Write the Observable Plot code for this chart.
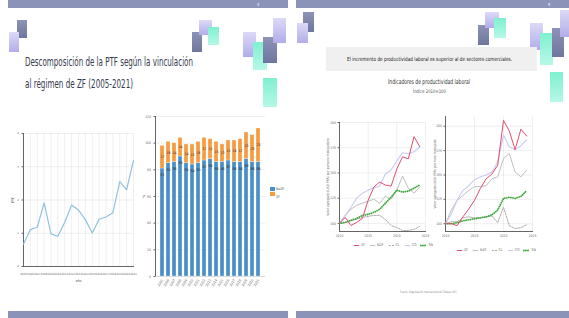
<!DOCTYPE html>
<html><head><meta charset="utf-8">
<script src="https://cdn.jsdelivr.net/npm/d3@7"></script>
<script src="https://cdn.jsdelivr.net/npm/@observablehq/plot@0.6"></script>
<style>
html,body{margin:0;padding:0;background:#fff;width:569px;height:318px;overflow:hidden;}
#page{position:relative;width:569px;height:318px;font-family:"Liberation Sans Narrow","DejaVu Sans Condensed","Liberation Sans",sans-serif;}
.sq{position:absolute;}
.leg{position:absolute;display:flex;gap:4px;align-items:center;font-size:3.6px;color:#666;white-space:nowrap;}
.leg span{display:flex;align-items:center;gap:1px;}
</style></head><body><div id="page"></div>
<script>
// ---------- DATA ----------
const ptfYears = [2005,2006,2007,2008,2009,2010,2011,2012,2013,2014,2015,2016,2017,2018,2019,2020,2021];
const ptfValues = [0.68,1.11,1.18,1.91,0.98,0.91,1.33,1.85,1.70,1.41,1.01,1.42,1.49,1.62,2.55,2.31,3.19];
const ptfTicks = [0,1,2,3,4];

const barYears = [2005,2006,2007,2008,2009,2010,2011,2012,2013,2014,2015,2016,2017,2018,2019,2020,2021];
const barNoZF = [81,85,86,90,85,84,85,87,88,86,86,87,86,86,88,86,86];
const barZF   = [17,16,14,14,14,15,16,17,15,15,13,15,16,17,20,20,25];
const barSeries = ["NoZF","ZF"];
const barTicks = [0,20,40,60,80,100,120];

const idxYears = [2010,2011,2012,2013,2014,2015,2016,2017,2018,2019,2020,2021,2022,2023,2024];
const idxSeries = ["ZF","NZF","CL","CO","SN"];
const idxTicks = [100,125,150,175,200];
const idxXTicks = [2010,2015,2020,2025];
// panel A
const aZF  = [100,106,98,101,105,123,136,141,138,137,154,166,164,186,176];
const aNZF = [100,108,114,118,120,122,124,120,127,124,133,147,135,130,136];
const aCL  = [100,101,103,104,106,107,108,108,104,98,96,93,93,94,97];
const aCO  = [100,108,116,125,130,133,135,137,149,153,162,170,169,171,176];
const aSN  = [100,101,103,105,108,109,111,114,120,126,133,131,132,135,138];
// panel B
const bZF  = [100,100,98,107,115,124,136,146,151,160,206,195,176,197,190];
const bNZF = [100,114,124,129,134,138,138,139,146,148,167,172,153,148,155];
const bCL  = [100,102,102,106,107,106,106,107,108,101,117,98,95,96,99];
const bCO  = [100,110,124,134,139,145,148,150,153,163,191,179,176,180,186];
const bSN  = [100,100,101,103,104,105,106,107,109,114,126,127,126,128,134];

// ---------- STYLES ----------
const FONT = '"Liberation Sans Narrow","DejaVu Sans Condensed","Liberation Sans",sans-serif';
const seriesStyle = {
  CL:  {stroke:"#a3a3a3", strokeWidth:0.9, strokeDasharray:"2,1.2"},
  NZF: {stroke:"#b8b8b8", strokeWidth:0.9},
  CO:  {stroke:"#c9cbf3", strokeWidth:1.1},
  SN:  {stroke:"#3aa83a", strokeWidth:1.8, strokeDasharray:"0.1,2", strokeLinecap:"round"},
  ZF:  {stroke:"#df4f70", strokeWidth:1.0}
};
const drawOrder = ["CL","NZF","CO","SN","ZF"];

const page = document.getElementById("page");
function place(el, left, top){ el.style.position="absolute"; el.style.left=left+"px"; el.style.top=top+"px"; page.appendChild(el); return el; }

// ---------- SLIDE FRAME ----------
function bar(l,t,w,h,c){ const d=document.createElement("div"); d.className="sq"; Object.assign(d.style,{left:l+"px",top:t+"px",width:w+"px",height:h+"px",background:c}); page.appendChild(d); }
const slate="linear-gradient(#8d93b6,#6f769d)", lav="linear-gradient(#dcd9f8,#b2ade9)", teal="linear-gradient(#7ff0d0,#b6f8e8)";
bar(8,0,280,8,"#8b93b9"); bar(296,0,273,8,"#8b93b9");
bar(8,311,280,7,"#8b93b9"); bar(296,311,273,7,"#8b93b9");
// left slide squares
bar(17,20,10,18,slate); bar(9,32,10,20,lav);
bar(192,32,10,20,slate); bar(199,20,13,15,lav); bar(208,27,11,18,teal);
bar(243,32,13,25,lav); bar(253,42,14,28,teal); bar(263,37,14,26,slate); bar(273,18,13,25,lav); bar(263,78,14,29,teal);
// right slide squares
bar(303,12,11,20,slate); bar(297,23,11,20,lav);
bar(478,25,11,20,slate); bar(485,12,14,16,lav); bar(494,18,12,20,teal);
bar(530,23,13,27,lav); bar(540,33,13,32,teal); bar(552,28,12,29,slate); bar(560,10,9,27,lav); bar(550,72,13,30,teal);
// header box
bar(326,47,211,24,"#f0f0f0");

// ---------- TEXTS ----------
const ov = d3.create("svg").attr("width",569).attr("height",318).style("position","absolute").style("left","0px").style("top","0px").style("font-family",FONT);
function txt(s,x,y,size,len,color,anchor){ const t=ov.append("text").attr("x",x).attr("y",y).attr("font-size",size).attr("fill",color).text(s); if(anchor) t.attr("text-anchor",anchor); if(len) t.attr("textLength",len).attr("lengthAdjust","spacingAndGlyphs"); return t; }
txt("Descomposición de la PTF según la vinculación",25,66,12.5,168,"#343a4e");
txt("al régimen de ZF (2005-2021)",25,88,12.5,108,"#343a4e");
txt("El incremento de productividad laboral es superior al de sectores comerciales.",347,61,5.6,165,"#222");
txt("Indicadores de productividad laboral",388,84,6.8,82,"#333");
txt("Índice 2010=100",413,93,4.8,33,"#555");
txt("Fuente: Organización Internacional del Trabajo (OIT)",400,293,3.2,57,"#888");
txt("4",257,5.5,4,null,"#fff"); txt("5",548,5.5,4,null,"#fff");
txt("NoZF",276,189.5,3.6,null,"#555"); txt("ZF",276,197.5,3.6,null,"#555");

// ---------- LEFT LINE CHART ----------
const ptfRows = ptfYears.map((y,i)=>({year:y, v:ptfValues[i]}));
place(Plot.plot({
  width:145, height:185, marginLeft:23, marginRight:12, marginTop:23, marginBottom:29,
  style:{fontFamily:FONT, fontSize:"2.9px", color:"#666", background:"transparent", overflow:"visible"},
  x:{domain:[2005,2021], ticks:ptfYears, tickFormat:d=>String(d), tickSize:0, tickPadding:6, grid:true, line:true, label:null},
  y:{domain:[0,4], ticks:ptfTicks, tickFormat:d=>String(d), tickSize:1.5, tickPadding:3, grid:true, line:true, label:null},
  marks:[
    Plot.line(ptfRows,{x:"year", y:"v", stroke:"#8fc3dc", strokeWidth:1.2}),
    Plot.text(["año"],{frameAnchor:"bottom", dy:14, lineAnchor:"middle", fontSize:3.6, fill:"#555"}),
    Plot.text(["PTF"],{frameAnchor:"left", dx:-11, rotate:-90, lineAnchor:"middle", textAnchor:"middle", fontSize:3.6, fill:"#555"})
  ]
}),0,110);

// ---------- STACKED BAR CHART ----------
const barRows = barYears.flatMap((y,i)=>[{year:y, serie:barSeries[0], v:barNoZF[i]},{year:y, serie:barSeries[1], v:barZF[i]}]);
const labRows = barYears.flatMap((y,i)=>[{year:y, y:barNoZF[i]-5, t:barNoZF[i]},{year:y, y:barNoZF[i]+barZF[i]/2, t:barZF[i]}]);
place(Plot.plot({
  width:150, height:200, marginLeft:20, marginRight:20, marginTop:16, marginBottom:24,
  style:{fontFamily:FONT, fontSize:"3.4px", color:"#666", background:"transparent", overflow:"visible"},
  x:{domain:barYears, padding:0.33, tickSize:0, tickPadding:3, tickRotate:-60, tickFormat:d=>String(d), label:null},
  y:{domain:[0,120], ticks:barTicks, tickSize:1.5, tickPadding:3, grid:true, line:true, label:null},
  color:{domain:barSeries, range:["#4a8fc8","#f69c3f"]},
  marks:[
    Plot.barY(barRows,{x:"year", y:"v", fill:"serie", stroke:"#fff", strokeWidth:0.3}),
    Plot.ruleY([0],{stroke:"#ccc", strokeWidth:0.6}),
    Plot.text(labRows,{x:"year", y:"y", text:"t", fontSize:3.6, fill:"#333"}),
    Plot.text(["%"],{frameAnchor:"left", dx:-12, rotate:-90, lineAnchor:"middle", textAnchor:"middle", fontSize:3.6, fill:"#555"})
  ]
}),135,100);
// bar legend swatches drawn with color scale of a tiny Plot
place(Plot.plot({
  width:5, height:12, margin:0, x:{axis:null}, y:{axis:null, domain:barSeries, padding:0.3},
  color:{domain:barSeries, range:["#4a8fc8","#f69c3f"]},
  style:{background:"transparent", overflow:"visible"},
  marks:[Plot.cell(barSeries,{y:d=>d, fill:d=>d})]
}),270,185);

// ---------- INDEX CHARTS ----------
function idxRows(arrs){ return idxSeries.flatMap((s,k)=>idxYears.map((y,i)=>({s, year:y, v:arrs[k][i]}))); }
function idxChart(rows, opts, yTitle){
  return Plot.plot({
    width:opts.width, height:135, marginLeft:opts.ml, marginRight:opts.mr, marginTop:opts.mt, marginBottom:14,
    style:{fontFamily:FONT, fontSize:"3.4px", color:"#666", background:"transparent", overflow:"visible"},
    x:{domain:[2010,2025], ticks:idxXTicks, tickFormat:d=>String(d), tickSize:0, tickPadding:3, grid:true, line:true, label:null},
    y:{domain:opts.yd, ticks:idxTicks, tickSize:1.5, tickPadding:2, grid:true, line:true, label:null},
    marks:[
      ...drawOrder.map(s=>Plot.line(rows.filter(d=>d.s===s),{x:"year", y:"v", ...seriesStyle[s]})),
      Plot.text([yTitle],{frameAnchor:"left", dx:opts.tdx, rotate:-90, lineAnchor:"middle", textAnchor:"middle", fontSize:3.4, fill:"#666"})
    ]
  });
}
place(idxChart(idxRows([aZF,aNZF,aCL,aCO,aSN]),{width:110, ml:19, mr:5, mt:12, yd:[92,200], tdx:-12},"Valor agregado (USD PPA) por persona trabajadora"),320,110);
place(idxChart(idxRows([bZF,bNZF,bCL,bCO,bSN]),{width:115, ml:15, mr:13, mt:6, yd:[92,210], tdx:-11},"Valor agregado (USD PPA) por hora trabajada"),430,110);

// legends for index charts
function legend(left, top){
  const d=document.createElement("div"); d.className="leg";
  d.innerHTML = idxSeries.map(s=>{ const st=seriesStyle[s];
    return `<span><svg width="7" height="3"><line x1="0.8" y1="1.5" x2="6.2" y2="1.5" stroke="${st.stroke}" stroke-width="${st.strokeWidth}" ${st.strokeDasharray?`stroke-dasharray="${st.strokeDasharray}"`:""} stroke-linecap="${st.strokeLinecap||"butt"}"/></svg>${s}</span>`; }).join("");
  place(d,left,top);
}
legend(353,243); legend(456,248);

page.appendChild(ov.node());
</script></body></html>
